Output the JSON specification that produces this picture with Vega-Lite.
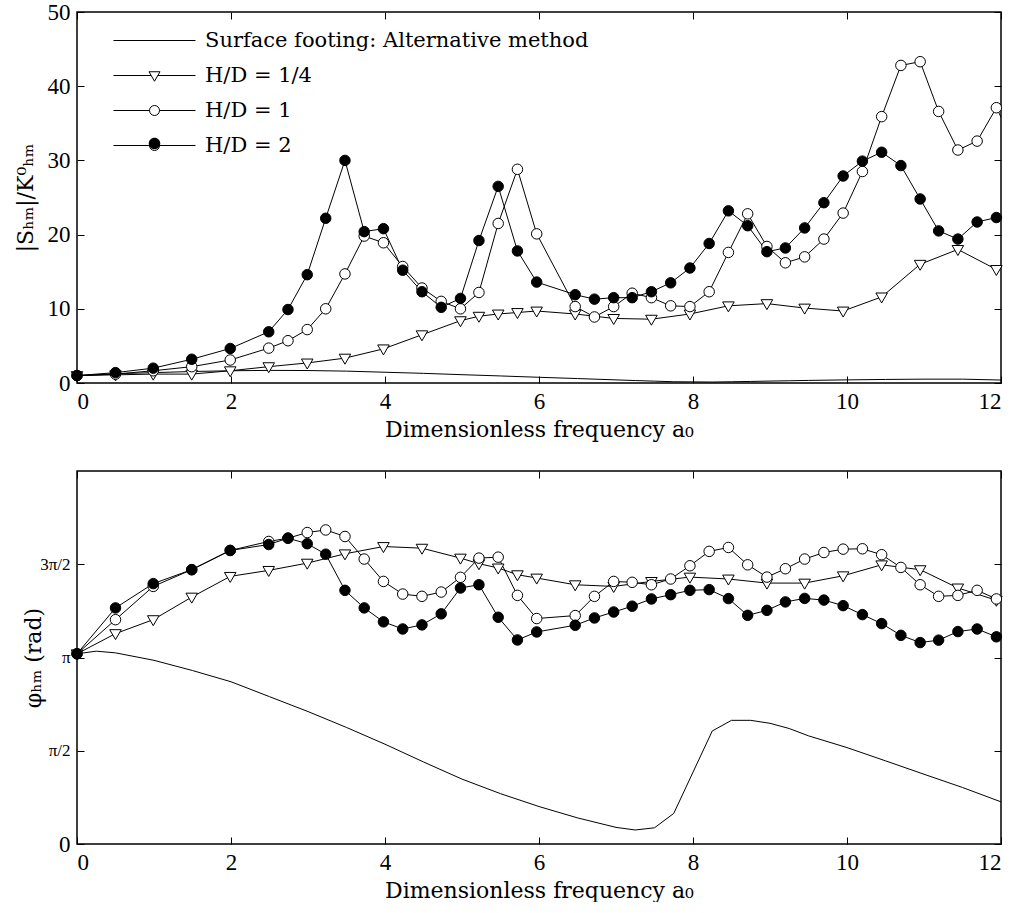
{
  "$schema": "https://vega.github.io/schema/vega-lite/v6.json",
  "padding": {"left": 13, "top": 0, "right": 5, "bottom": 0},
  "background": "white",
  "spacing": 28,
  "config": {
    "font": "DejaVu Serif",
    "view": {"stroke": "black", "strokeWidth": 1.5},
    "axis": {
      "domain": false, "grid": false,
      "tickColor": "black", "tickSize": -7, "tickWidth": 1,
      "labelFont": "Liberation Serif", "labelFontSize": 23, "labelColor": "black", "labelPadding": 14,
      "titleFont": "DejaVu Serif", "titleFontSize": 22, "titleFontWeight": "normal", "titleColor": "black"
    }
  },
  "data": {"values": [
    {"series": "Surface footing: Alternative method", "a0": 0, "mag": 1.0, "phase": 3.204},
    {"series": "Surface footing: Alternative method", "a0": 0.25, "mag": 1.1, "phase": 3.248},
    {"series": "Surface footing: Alternative method", "a0": 0.5, "mag": 1.25, "phase": 3.22},
    {"series": "Surface footing: Alternative method", "a0": 1, "mag": 1.4, "phase": 3.094},
    {"series": "Surface footing: Alternative method", "a0": 1.5, "mag": 1.55, "phase": 2.922},
    {"series": "Surface footing: Alternative method", "a0": 2, "mag": 1.65, "phase": 2.733},
    {"series": "Surface footing: Alternative method", "a0": 2.5, "mag": 1.7, "phase": 2.482},
    {"series": "Surface footing: Alternative method", "a0": 3, "mag": 1.68, "phase": 2.231},
    {"series": "Surface footing: Alternative method", "a0": 3.5, "mag": 1.6, "phase": 1.963},
    {"series": "Surface footing: Alternative method", "a0": 4, "mag": 1.45, "phase": 1.681},
    {"series": "Surface footing: Alternative method", "a0": 4.5, "mag": 1.3, "phase": 1.382},
    {"series": "Surface footing: Alternative method", "a0": 5, "mag": 1.12, "phase": 1.093},
    {"series": "Surface footing: Alternative method", "a0": 5.5, "mag": 0.95, "phase": 0.848},
    {"series": "Surface footing: Alternative method", "a0": 6, "mag": 0.77, "phase": 0.631},
    {"series": "Surface footing: Alternative method", "a0": 6.5, "mag": 0.6, "phase": 0.44},
    {"series": "Surface footing: Alternative method", "a0": 7, "mag": 0.42, "phase": 0.28},
    {"series": "Surface footing: Alternative method", "a0": 7.25, "mag": 0.33, "phase": 0.236},
    {"series": "Surface footing: Alternative method", "a0": 7.5, "mag": 0.25, "phase": 0.273},
    {"series": "Surface footing: Alternative method", "a0": 7.75, "mag": 0.17, "phase": 0.515},
    {"series": "Surface footing: Alternative method", "a0": 8.25, "mag": 0.13, "phase": 1.904},
    {"series": "Surface footing: Alternative method", "a0": 8.5, "mag": 0.17, "phase": 2.083},
    {"series": "Surface footing: Alternative method", "a0": 8.75, "mag": 0.21, "phase": 2.083},
    {"series": "Surface footing: Alternative method", "a0": 9, "mag": 0.26, "phase": 2.033},
    {"series": "Surface footing: Alternative method", "a0": 9.25, "mag": 0.3, "phase": 1.945},
    {"series": "Surface footing: Alternative method", "a0": 9.5, "mag": 0.35, "phase": 1.822},
    {"series": "Surface footing: Alternative method", "a0": 10, "mag": 0.42, "phase": 1.624},
    {"series": "Surface footing: Alternative method", "a0": 10.5, "mag": 0.48, "phase": 1.401},
    {"series": "Surface footing: Alternative method", "a0": 11, "mag": 0.52, "phase": 1.175},
    {"series": "Surface footing: Alternative method", "a0": 11.5, "mag": 0.52, "phase": 0.952},
    {"series": "Surface footing: Alternative method", "a0": 12, "mag": 0.4, "phase": 0.71},

    {"series": "H/D = 1/4", "a0": 0, "mag": 1.0, "phase": 3.204},
    {"series": "H/D = 1/4", "a0": 0.5, "mag": 1.1, "phase": 3.544},
    {"series": "H/D = 1/4", "a0": 0.99, "mag": 1.2, "phase": 3.779},
    {"series": "H/D = 1/4", "a0": 1.49, "mag": 1.2, "phase": 4.159},
    {"series": "H/D = 1/4", "a0": 1.99, "mag": 1.65, "phase": 4.508},
    {"series": "H/D = 1/4", "a0": 2.49, "mag": 2.2, "phase": 4.609},
    {"series": "H/D = 1/4", "a0": 2.99, "mag": 2.7, "phase": 4.731},
    {"series": "H/D = 1/4", "a0": 3.48, "mag": 3.35, "phase": 4.888},
    {"series": "H/D = 1/4", "a0": 3.98, "mag": 4.6, "phase": 5.011},
    {"series": "H/D = 1/4", "a0": 4.48, "mag": 6.5, "phase": 4.983},
    {"series": "H/D = 1/4", "a0": 4.98, "mag": 8.4, "phase": 4.816},
    {"series": "H/D = 1/4", "a0": 5.22, "mag": 9.0, "phase": 4.722},
    {"series": "H/D = 1/4", "a0": 5.47, "mag": 9.3, "phase": 4.65},
    {"series": "H/D = 1/4", "a0": 5.72, "mag": 9.5, "phase": 4.536},
    {"series": "H/D = 1/4", "a0": 5.97, "mag": 9.7, "phase": 4.48},
    {"series": "H/D = 1/4", "a0": 6.47, "mag": 9.3, "phase": 4.367},
    {"series": "H/D = 1/4", "a0": 6.97, "mag": 8.7, "phase": 4.339},
    {"series": "H/D = 1/4", "a0": 7.46, "mag": 8.6, "phase": 4.423},
    {"series": "H/D = 1/4", "a0": 7.96, "mag": 9.3, "phase": 4.496},
    {"series": "H/D = 1/4", "a0": 8.46, "mag": 10.4, "phase": 4.464},
    {"series": "H/D = 1/4", "a0": 8.96, "mag": 10.7, "phase": 4.395},
    {"series": "H/D = 1/4", "a0": 9.45, "mag": 10.1, "phase": 4.395},
    {"series": "H/D = 1/4", "a0": 9.95, "mag": 9.7, "phase": 4.518},
    {"series": "H/D = 1/4", "a0": 10.45, "mag": 11.6, "phase": 4.703},
    {"series": "H/D = 1/4", "a0": 10.95, "mag": 16.0, "phase": 4.621},
    {"series": "H/D = 1/4", "a0": 11.44, "mag": 18.0, "phase": 4.313},
    {"series": "H/D = 1/4", "a0": 11.94, "mag": 15.3, "phase": 4.106},

    {"series": "H/D = 1", "a0": 0, "mag": 1.0, "phase": 3.204},
    {"series": "H/D = 1", "a0": 0.5, "mag": 1.2, "phase": 3.779},
    {"series": "H/D = 1", "a0": 0.99, "mag": 1.65, "phase": 4.339},
    {"series": "H/D = 1", "a0": 1.49, "mag": 2.2, "phase": 4.621},
    {"series": "H/D = 1", "a0": 1.99, "mag": 3.1, "phase": 4.945},
    {"series": "H/D = 1", "a0": 2.49, "mag": 4.7, "phase": 5.096},
    {"series": "H/D = 1", "a0": 2.74, "mag": 5.7, "phase": 5.152},
    {"series": "H/D = 1", "a0": 2.99, "mag": 7.2, "phase": 5.246},
    {"series": "H/D = 1", "a0": 3.23, "mag": 10.0, "phase": 5.29},
    {"series": "H/D = 1", "a0": 3.48, "mag": 14.7, "phase": 5.18},
    {"series": "H/D = 1", "a0": 3.73, "mag": 19.8, "phase": 4.8},
    {"series": "H/D = 1", "a0": 3.98, "mag": 18.9, "phase": 4.423},
    {"series": "H/D = 1", "a0": 4.23, "mag": 15.7, "phase": 4.21},
    {"series": "H/D = 1", "a0": 4.48, "mag": 12.8, "phase": 4.172},
    {"series": "H/D = 1", "a0": 4.73, "mag": 11.0, "phase": 4.244},
    {"series": "H/D = 1", "a0": 4.98, "mag": 10.0, "phase": 4.492},
    {"series": "H/D = 1", "a0": 5.22, "mag": 12.2, "phase": 4.816},
    {"series": "H/D = 1", "a0": 5.47, "mag": 21.5, "phase": 4.832},
    {"series": "H/D = 1", "a0": 5.72, "mag": 28.8, "phase": 4.188},
    {"series": "H/D = 1", "a0": 5.97, "mag": 20.1, "phase": 3.798},
    {"series": "H/D = 1", "a0": 6.47, "mag": 10.3, "phase": 3.848},
    {"series": "H/D = 1", "a0": 6.72, "mag": 8.9, "phase": 4.172},
    {"series": "H/D = 1", "a0": 6.97, "mag": 10.3, "phase": 4.423},
    {"series": "H/D = 1", "a0": 7.21, "mag": 12.1, "phase": 4.408},
    {"series": "H/D = 1", "a0": 7.46, "mag": 11.5, "phase": 4.367},
    {"series": "H/D = 1", "a0": 7.71, "mag": 10.4, "phase": 4.464},
    {"series": "H/D = 1", "a0": 7.96, "mag": 10.3, "phase": 4.687},
    {"series": "H/D = 1", "a0": 8.21, "mag": 12.3, "phase": 4.929},
    {"series": "H/D = 1", "a0": 8.46, "mag": 17.6, "phase": 4.995},
    {"series": "H/D = 1", "a0": 8.71, "mag": 22.8, "phase": 4.703},
    {"series": "H/D = 1", "a0": 8.96, "mag": 18.4, "phase": 4.496},
    {"series": "H/D = 1", "a0": 9.2, "mag": 16.2, "phase": 4.637},
    {"series": "H/D = 1", "a0": 9.45, "mag": 17.0, "phase": 4.8},
    {"series": "H/D = 1", "a0": 9.7, "mag": 19.4, "phase": 4.91},
    {"series": "H/D = 1", "a0": 9.95, "mag": 22.9, "phase": 4.967},
    {"series": "H/D = 1", "a0": 10.2, "mag": 28.5, "phase": 4.973},
    {"series": "H/D = 1", "a0": 10.45, "mag": 35.9, "phase": 4.873},
    {"series": "H/D = 1", "a0": 10.7, "mag": 42.8, "phase": 4.659},
    {"series": "H/D = 1", "a0": 10.95, "mag": 43.3, "phase": 4.367},
    {"series": "H/D = 1", "a0": 11.19, "mag": 36.6, "phase": 4.172},
    {"series": "H/D = 1", "a0": 11.44, "mag": 31.4, "phase": 4.188},
    {"series": "H/D = 1", "a0": 11.69, "mag": 32.6, "phase": 4.273},
    {"series": "H/D = 1", "a0": 11.94, "mag": 37.1, "phase": 4.128},
    {"series": "H/D = 1", "a0": 12.19, "mag": 31.8, "phase": 4.05},

    {"series": "H/D = 2", "a0": 0, "mag": 1.0, "phase": 3.204},
    {"series": "H/D = 2", "a0": 0.5, "mag": 1.4, "phase": 3.977},
    {"series": "H/D = 2", "a0": 0.99, "mag": 2.0, "phase": 4.386},
    {"series": "H/D = 2", "a0": 1.49, "mag": 3.2, "phase": 4.621},
    {"series": "H/D = 2", "a0": 1.99, "mag": 4.65, "phase": 4.945},
    {"series": "H/D = 2", "a0": 2.49, "mag": 6.9, "phase": 5.045},
    {"series": "H/D = 2", "a0": 2.74, "mag": 9.9, "phase": 5.152},
    {"series": "H/D = 2", "a0": 2.99, "mag": 14.6, "phase": 5.058},
    {"series": "H/D = 2", "a0": 3.23, "mag": 22.2, "phase": 4.882},
    {"series": "H/D = 2", "a0": 3.48, "mag": 30.0, "phase": 4.273},
    {"series": "H/D = 2", "a0": 3.73, "mag": 20.4, "phase": 3.977},
    {"series": "H/D = 2", "a0": 3.98, "mag": 20.8, "phase": 3.742},
    {"series": "H/D = 2", "a0": 4.23, "mag": 15.2, "phase": 3.622},
    {"series": "H/D = 2", "a0": 4.48, "mag": 12.3, "phase": 3.691},
    {"series": "H/D = 2", "a0": 4.73, "mag": 10.2, "phase": 3.877},
    {"series": "H/D = 2", "a0": 4.98, "mag": 11.4, "phase": 4.313},
    {"series": "H/D = 2", "a0": 5.22, "mag": 19.2, "phase": 4.367},
    {"series": "H/D = 2", "a0": 5.47, "mag": 26.5, "phase": 3.82},
    {"series": "H/D = 2", "a0": 5.72, "mag": 17.8, "phase": 3.437},
    {"series": "H/D = 2", "a0": 5.97, "mag": 13.6, "phase": 3.572},
    {"series": "H/D = 2", "a0": 6.47, "mag": 11.9, "phase": 3.685},
    {"series": "H/D = 2", "a0": 6.72, "mag": 11.3, "phase": 3.808},
    {"series": "H/D = 2", "a0": 6.97, "mag": 11.5, "phase": 3.908},
    {"series": "H/D = 2", "a0": 7.21, "mag": 11.5, "phase": 4.006},
    {"series": "H/D = 2", "a0": 7.46, "mag": 12.3, "phase": 4.128},
    {"series": "H/D = 2", "a0": 7.71, "mag": 13.5, "phase": 4.2},
    {"series": "H/D = 2", "a0": 7.96, "mag": 15.5, "phase": 4.273},
    {"series": "H/D = 2", "a0": 8.21, "mag": 18.8, "phase": 4.285},
    {"series": "H/D = 2", "a0": 8.46, "mag": 23.2, "phase": 4.134},
    {"series": "H/D = 2", "a0": 8.71, "mag": 21.2, "phase": 3.852},
    {"series": "H/D = 2", "a0": 8.96, "mag": 17.7, "phase": 3.936},
    {"series": "H/D = 2", "a0": 9.2, "mag": 18.2, "phase": 4.078},
    {"series": "H/D = 2", "a0": 9.45, "mag": 20.9, "phase": 4.137},
    {"series": "H/D = 2", "a0": 9.7, "mag": 24.3, "phase": 4.109},
    {"series": "H/D = 2", "a0": 9.95, "mag": 27.9, "phase": 4.015},
    {"series": "H/D = 2", "a0": 10.2, "mag": 29.9, "phase": 3.864},
    {"series": "H/D = 2", "a0": 10.45, "mag": 31.1, "phase": 3.713},
    {"series": "H/D = 2", "a0": 10.7, "mag": 29.3, "phase": 3.515},
    {"series": "H/D = 2", "a0": 10.95, "mag": 24.8, "phase": 3.393},
    {"series": "H/D = 2", "a0": 11.19, "mag": 20.5, "phase": 3.434},
    {"series": "H/D = 2", "a0": 11.44, "mag": 19.4, "phase": 3.578},
    {"series": "H/D = 2", "a0": 11.69, "mag": 21.7, "phase": 3.622},
    {"series": "H/D = 2", "a0": 11.94, "mag": 22.3, "phase": 3.49}
  ]},
  "vconcat": [
    {
      "width": 924, "height": 371,
      "layer": [
        {
          "mark": {"type": "line", "stroke": "black", "strokeWidth": 1, "clip": true},
          "encoding": {
            "x": {"field": "a0", "type": "quantitative", "scale": {"domain": [0, 12], "nice": false},
                  "axis": {"values": [0, 2, 4, 6, 8, 10, 12], "title": "Dimensionless frequency a₀", "titlePadding": 6}},
            "y": {"field": "mag", "type": "quantitative", "scale": {"domain": [0, 50], "nice": false},
                  "axis": {"values": [0, 10, 20, 30, 40, 50], "title": "|Sₕₘ|/K⁰ₕₘ", "titleX": -40}},
            "detail": {"field": "series"}
          }
        },
        {
          "transform": [{"filter": "datum.series != 'Surface footing: Alternative method' && datum.a0 <= 12"}],
          "mark": {"type": "point", "filled": true, "stroke": "black", "strokeWidth": 1, "size": 110, "opacity": 1},
          "encoding": {
            "x": {"field": "a0", "type": "quantitative", "axis": {"orient": "top", "labels": false, "title": null, "values": [0, 2, 4, 6, 8, 10, 12]}},
            "y": {"field": "mag", "type": "quantitative", "axis": {"orient": "right", "labels": false, "title": null, "values": [0, 10, 20, 30, 40, 50]}},
            "shape": {"field": "series", "type": "nominal", "legend": null,
                      "scale": {"domain": ["H/D = 1/4", "H/D = 1", "H/D = 2"], "range": ["M-1.1,-0.75L1.1,-0.75L0,1.15Z", "circle", "circle"]}},
            "fill": {"field": "series", "type": "nominal", "legend": null,
                     "scale": {"domain": ["H/D = 1/4", "H/D = 1", "H/D = 2"], "range": ["white", "white", "black"]}}
          }
        },
        {
          "transform": [{"filter": "datum.a0 == 0"}],
          "mark": {"type": "point", "filled": false, "stroke": "black", "strokeWidth": 1, "size": 100, "opacity": 0},
          "encoding": {
            "x": {"field": "a0", "type": "quantitative", "axis": null},
            "y": {"field": "mag", "type": "quantitative", "axis": null},
            "shape": {"field": "series", "type": "nominal",
                      "scale": {"domain": ["Surface footing: Alternative method", "H/D = 1/4", "H/D = 1", "H/D = 2"],
                                "range": ["M-1,0L15.4,0",
                                          "M-1,0L6.53,0M7.87,0L15.4,0M6.1,-0.75L8.3,-0.75L7.2,1.15Z",
                                          "M-1,0L6.2,0M8.2,0L15.4,0M6.2,0A1,1,0,1,0,8.2,0A1,1,0,1,0,6.2,0Z",
                                          "M-1,0L6.2,0M8.2,0L15.4,0M6.2,0A1,1,0,1,0,8.2,0A1,1,0,1,0,6.2,0Z"]},
                      "legend": {"orient": "none", "legendX": 31, "legendY": 18, "title": null, "padding": 0,
                                 "symbolStrokeWidth": 1, "symbolStrokeColor": "black", "symbolOpacity": 1,
                                 "labelFont": "DejaVu Serif", "labelFontSize": 21, "labelColor": "black",
                                 "labelOffset": 76, "rowPadding": 13, "labelLimit": 600,
                                 "encode": {"symbols": {
                                   "stroke": {"value": "black"},
                                   "strokeWidth": {"value": 1},
                                   "opacity": {"value": 1}}}}}
          }
        },
        {
          "transform": [{"filter": "datum.a0 == 0 && datum.series == 'H/D = 2'"}],
          "mark": {"type": "point", "filled": true, "fill": "black", "size": 100, "opacity": 0},
          "encoding": {
            "x": {"field": "a0", "type": "quantitative", "axis": null},
            "y": {"field": "mag", "type": "quantitative", "axis": null},
            "shape": {"field": "series", "type": "nominal",
                      "scale": {"domain": ["H/D = 2"],
                                "range": ["M6.05,0A1.15,1.15,0,1,0,8.35,0A1.15,1.15,0,1,0,6.05,0Z"]},
                      "legend": {"orient": "none", "legendX": 31, "legendY": 121, "title": null, "padding": 0,
                                 "symbolOpacity": 1, "symbolFillColor": "black",
                                 "labelFont": "DejaVu Serif", "labelFontSize": 21, "labelColor": "black", "labelOpacity": 0,
                                 "labelOffset": 76, "labelLimit": 600}}
          }
        }
      ],
      "resolve": {"scale": {"shape": "independent", "fill": "independent"}, "axis": {"x": "independent", "y": "independent"}}
    },
    {
      "width": 924, "height": 373,
      "layer": [
        {
          "mark": {"type": "line", "stroke": "black", "strokeWidth": 1, "clip": true},
          "encoding": {
            "x": {"field": "a0", "type": "quantitative", "scale": {"domain": [0, 12], "nice": false},
                  "axis": {"values": [0, 2, 4, 6, 8, 10, 12], "title": "Dimensionless frequency a₀", "titlePadding": 6}},
            "y": {"field": "phase", "type": "quantitative", "scale": {"domain": [0, 6.2832], "nice": false, "zero": true},
                  "axis": {"values": [0, 1.5708, 3.1416, 4.7124], "title": "φₕₘ  (rad)", "titleX": -32,
                           "labelFontSize": {"condition": {"test": "datum.value < 0.5", "value": 23}, "value": 17},
                           "labelExpr": "datum.value < 0.5 ? '0' : datum.value < 2 ? 'π/2' : datum.value < 4 ? 'π' : '3π/2'"}},
            "detail": {"field": "series"}
          }
        },
        {
          "transform": [{"filter": "datum.series != 'Surface footing: Alternative method' && datum.a0 <= 12"}],
          "mark": {"type": "point", "filled": true, "stroke": "black", "strokeWidth": 1, "size": 110, "opacity": 1},
          "encoding": {
            "x": {"field": "a0", "type": "quantitative", "axis": {"orient": "top", "labels": false, "title": null, "values": [0, 2, 4, 6, 8, 10, 12]}},
            "y": {"field": "phase", "type": "quantitative", "axis": {"orient": "right", "labels": false, "title": null, "values": [0, 1.5708, 3.1416, 4.7124]}},
            "shape": {"field": "series", "type": "nominal", "legend": null,
                      "scale": {"domain": ["H/D = 1/4", "H/D = 1", "H/D = 2"], "range": ["M-1.1,-0.75L1.1,-0.75L0,1.15Z", "circle", "circle"]}},
            "fill": {"field": "series", "type": "nominal", "legend": null,
                     "scale": {"domain": ["H/D = 1/4", "H/D = 1", "H/D = 2"], "range": ["white", "white", "black"]}}
          }
        }
      ],
      "resolve": {"axis": {"x": "independent", "y": "independent"}}
    }
  ]
}
